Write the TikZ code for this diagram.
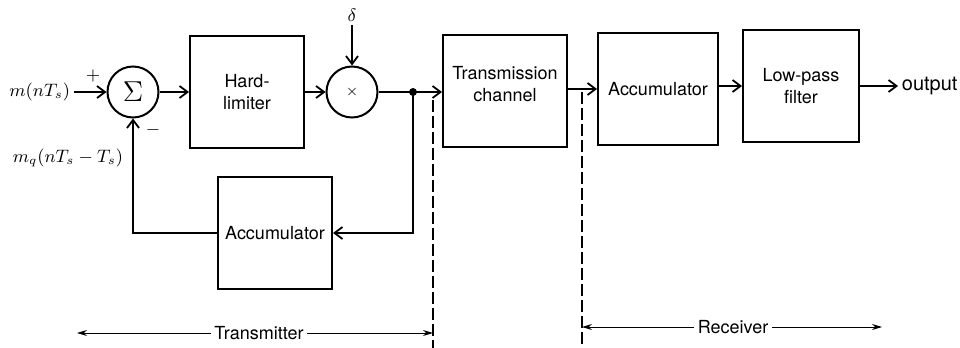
\documentclass[tikz,border=0pt]{standalone}
\usepackage{fontspec}
\setmainfont{TeX Gyre Heros}
\usetikzlibrary{arrows.meta}

\begin{document}
\begin{tikzpicture}[x=0.5pt, y=-0.5pt, line width=0.9pt,
  block/.style={draw, line width=1pt, minimum width=57pt, minimum height=56pt, inner sep=1pt, align=center, font=\fontsize{9}{11}\selectfont},
  junc/.style={draw, circle, line width=1pt, minimum size=25.5pt, inner sep=0pt},
  sig/.style={-{Straight Barb[length=4pt,width=6pt]}},
  boundary/.style={line width=0.6pt, dash pattern=on 6pt off 2pt},
  span/.style={line width=0.5pt, -{Stealth[length=5pt,width=3pt]}},
  lbl/.style={font=\fontsize{9}{11}\selectfont, inner sep=1.5pt}]
  \useasboundingbox (0,0) rectangle (960,348);
  \node[junc] (sum) at (133,92) {\fontsize{14}{14}\selectfont$\Sigma$};
  \node[block] (hl) at (247,92) {Hard-\\limiter};
  \node[junc] (mult) at (352,92) {\scriptsize$\times$};
  \coordinate (jn) at (413,92);
  \node[block, minimum width=62pt] (tc) at (505,91) {Transmission\\channel\\[-4pt]};
  \node[block, minimum width=60pt] (racc) at (658,89) {Accumulator};
  \node[block, minimum width=58pt] (lpf) at (801,86) {Low-pass\\filter};
  \node[block] (tacc) at (275,233) {Accumulator};
  \node[lbl, anchor=east] (min) at (74,92) {$m(nT_s)$};
  \node[lbl, anchor=east] (mq) at (127,158) {$m_q(nT_s - T_s)$};
  \node[lbl] (plus) at (93,76) {$+$};
  \node[lbl] (minus) at (153,130) {$-$};
  \node[lbl] (delta) at (352,15) {$\delta$};
  \node[lbl, anchor=west, font=\fontsize{10}{12}\selectfont] (out) at (898,86) {output};
  \draw[sig] (min) -- (sum);
  \draw[sig] (sum) -- (hl);
  \draw[sig] (hl) -- (mult);
  \draw[sig] (delta) -- (mult);
  \draw (mult) -- (jn);
  \draw[sig] (jn) -- (jn -| tc.west);
  \fill (jn) circle (2pt);
  \draw[sig] (jn) |- (tacc);
  \draw[sig] (tacc) -| (sum);
  \draw[sig] (tc.east |- racc) -- (racc.west);
  \draw[sig] (racc.east |- lpf) -- (lpf.west);
  \draw[sig] (lpf) -- (out);
  \coordinate (bt) at (433,100);
  \coordinate (bb) at (433,348);
  \coordinate (rt) at (582,92);
  \coordinate (rb) at (582,348);
  \draw[boundary] (bt) -- (bb);
  \draw[boundary] (rt) -- (rb);
  \node[lbl] (txlab) at (259,333) {Transmitter};
  \coordinate (txl) at (77,333);
  \coordinate (txr) at (433,333);
  \draw[span] (txlab) -- (txl);
  \draw[span] (txlab) -- (txr);
  \node[lbl] (rxlab) at (733,327) {Receiver};
  \coordinate (rxl) at (582,327);
  \coordinate (rxr) at (882,327);
  \draw[span] (rxlab) -- (rxl);
  \draw[span] (rxlab) -- (rxr);
\end{tikzpicture}
\end{document}
